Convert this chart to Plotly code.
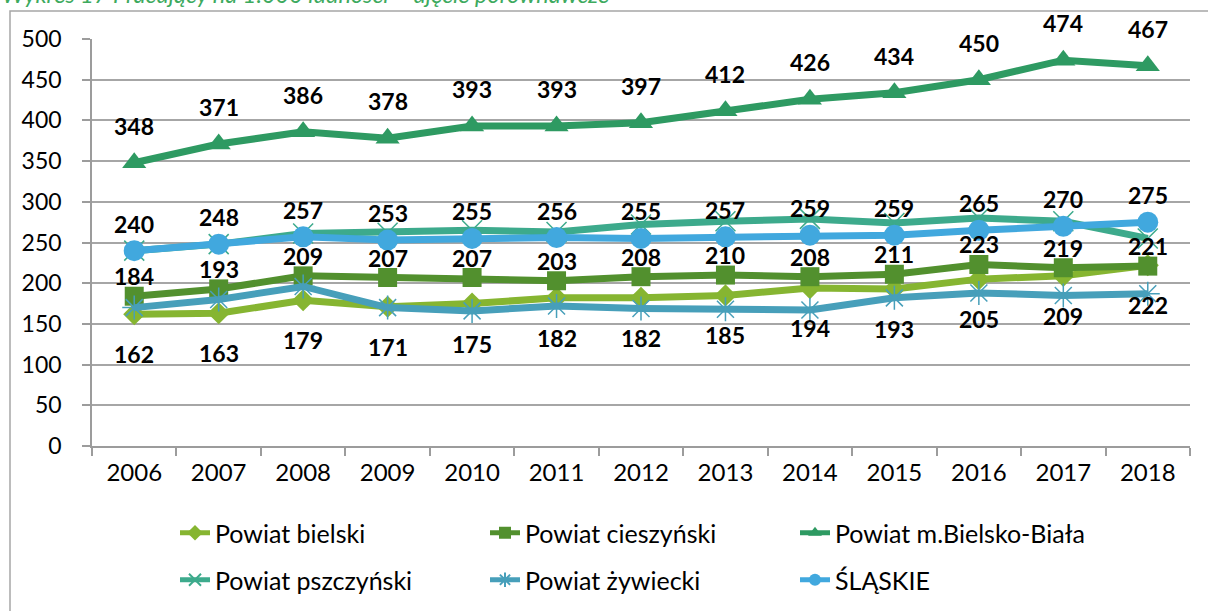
import plotly.graph_objects as go

years = ["2006", "2007", "2008", "2009", "2010", "2011", "2012", "2013", "2014", "2015", "2016", "2017", "2018"]

bielski = [162, 163, 179, 171, 175, 182, 182, 185, 194, 193, 205, 209, 222]
cieszynski = [184, 193, 209, 207, 207, 203, 208, 210, 208, 211, 223, 219, 221]
bielsko_biala = [348, 371, 386, 378, 393, 393, 397, 412, 426, 434, 450, 474, 467]
pszczynski = [240, 248, 261, 262, 265, 263, 272, 276, 279, 274, 280, 276, 255]
zywiecki = [170, 180, 196, 170, 166, 172, 169, 168, 167, 182, 188, 185, 187]
slaskie = [240, 248, 257, 253, 255, 256, 255, 257, 259, 259, 265, 270, 275]

names = ["Powiat bielski", "Powiat cieszyński", "Powiat m.Bielsko-Biała",
         "Powiat pszczyński", "Powiat żywiecki", "ŚLĄSKIE"]
y_ticks = [0, 50, 100, 150, 200, 250, 300, 350, 400, 450, 500]
title_text = "Wykres 17 Pracujący na 1.000 ludności – ujęcie porównawcze"

FONT = "Lato"
W, H = 1208, 611
ML, MR, MT, MB = 92, 18, 39, 165
pw = W - ML - MR
ph = H - MT - MB


def py(p):
    """paper y for a pixel row p (from top)"""
    return (MT + ph - p) / ph


def px(p):
    return (p - ML) / pw


fig = go.Figure()

series = [
    (bielski, names[0], "#86B531", dict(symbol="diamond", size=17), "legend"),
    (cieszynski, names[1], "#52902E", dict(symbol="square", size=19), "legend"),
    (bielsko_biala, names[2], "#2E9A62", dict(symbol="triangle-up", size=21), "legend"),
    (pszczynski, names[3], "#3DAA8C", dict(symbol="x-thin-open", size=20, line=dict(width=1.5)), "legend2"),
    (zywiecki, names[4], "#479FBA", dict(symbol="asterisk-open", size=20, line=dict(width=1.5)), "legend2"),
    (slaskie, names[5], "#41A8DE", dict(symbol="circle", size=21), "legend2"),
]

for vals, name, color, mk, lg in series:
    mk = dict(mk)
    mk["color"] = color
    if "line" in mk:
        mk["line"]["color"] = color
    fig.add_trace(go.Scatter(
        x=years, y=vals, name=name, mode="lines+markers",
        line=dict(color=color, width=7),
        marker=mk, legend=lg,
    ))


def add_labels(vals, shift):
    for i, v in enumerate(vals):
        fig.add_annotation(
            x=i, y=v, text=f"<b>{v}</b>", showarrow=False,
            yshift=shift, font=dict(family=FONT, size=23, color="black"),
        )


add_labels(bielsko_biala, 37)
add_labels(slaskie, 27)
add_labels(cieszynski, 20)
add_labels(bielski, -40)

# title (partially cut at top)
fig.add_annotation(
    xref="paper", yref="paper", x=px(0), y=py(-6),
    xanchor="left", yanchor="middle", showarrow=False,
    text=f"<i>{title_text}</i>", font=dict(family=FONT, size=23.5, color="#3DAA5E"),
)

# outer chart border
fig.add_shape(
    type="rect", xref="paper", yref="paper",
    x0=px(10), x1=px(W + 20), y0=py(H + 20), y1=py(11),
    line=dict(color="#A6A6A6", width=1.5), fillcolor="rgba(0,0,0,0)", layer="below",
)

legend_common = dict(
    orientation="h", x=px(175), xanchor="left", yanchor="middle",
    entrywidth=265, entrywidthmode="pixels",
    font=dict(family=FONT, size=25, color="black"),
    bgcolor="rgba(0,0,0,0)", itemsizing="constant",
)

fig.update_layout(
    width=W, height=H,
    margin=dict(l=ML, r=MR, t=MT, b=MB, autoexpand=False),
    paper_bgcolor="white", plot_bgcolor="white",
    font=dict(family=FONT, size=23, color="black"),
    showlegend=True,
    legend=dict(legend_common, y=py(533)),
    legend2=dict(legend_common, y=py(580)),
)

fig.update_xaxes(
    type="category", range=[-0.5, 12.5], showgrid=False, automargin=False,
    showline=True, linecolor="#9C9C9C", linewidth=1.5,
    ticks="outside", tickson="boundaries", ticklen=8, tickcolor="#9C9C9C", tickwidth=1.5,
    tickfont=dict(family=FONT, size=24, color="black"),
    ticklabelstandoff=4, tickangle=0,
)
fig.update_yaxes(
    range=[0, 500], tickvals=y_ticks, automargin=False,
    showgrid=True, gridcolor="#A6A6A6", gridwidth=1.5,
    showline=True, linecolor="#9C9C9C", linewidth=1.5,
    ticks="outside", ticklen=8, tickcolor="#9C9C9C", tickwidth=1.5,
    tickfont=dict(family=FONT, size=23, color="black"),
    zeroline=False, ticklabelstandoff=16,
)

fig.write_html(
    "out.html",
    config={"displayModeBar": False},
    post_script="document.body.style.margin='0px';document.body.style.overflow='hidden';",
)
